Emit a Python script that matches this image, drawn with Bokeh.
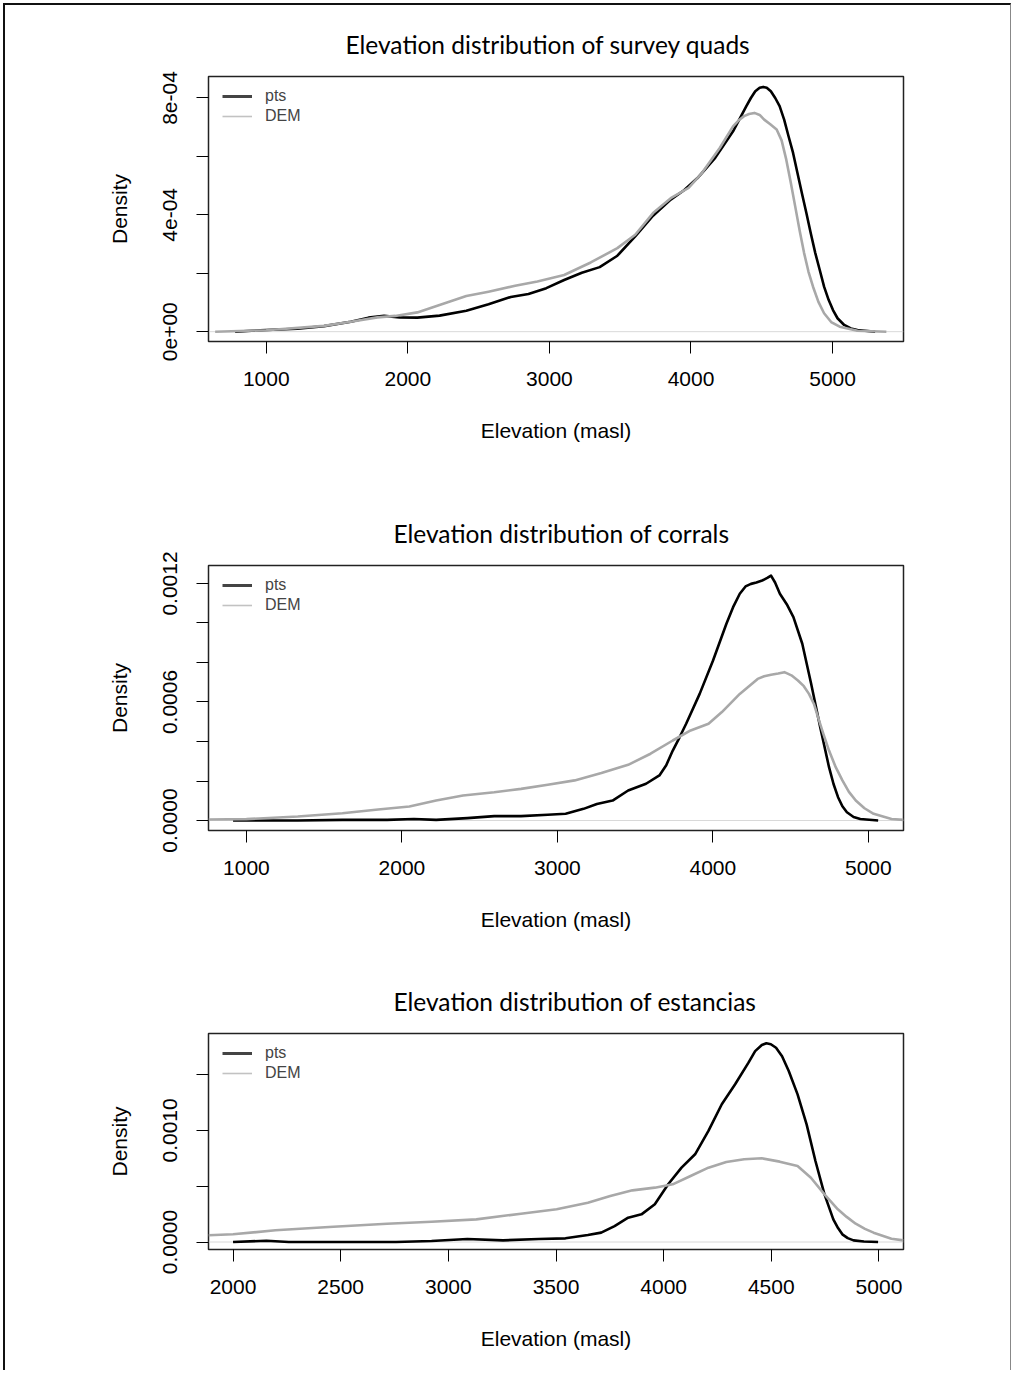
from bokeh.plotting import figure
from bokeh.models import Range1d, FixedTicker, Legend, LegendItem, Span, Spacer
from bokeh.layouts import column
from bokeh.embed import file_html
from bokeh.resources import INLINE

# ---------------- data ----------------
titles = ["Elevation distribution of survey quads",
          "Elevation distribution of corrals",
          "Elevation distribution of estancias"]
x_title = "Elevation (masl)"
y_title = "Density"
series_names = ["pts", "DEM"]

# Panel 1: survey quads
quads_pts_x = [780, 1000, 1220, 1408, 1597, 1722, 1832, 1942, 2067, 2224, 2413, 2570, 2727, 2852,
               2978, 3104, 3229, 3355, 3480, 3606, 3732, 3857, 3951, 4046, 4171, 4297, 4391, 4423,
               4454, 4485, 4510, 4535, 4564, 4595, 4626, 4658, 4689, 4721, 4752, 4783, 4815, 4846,
               4878, 4909, 4940, 4972, 5003, 5035, 5082, 5129, 5176, 5301]
quads_pts_y = [0.0, 0.06e-4, 0.10e-4, 0.19e-4, 0.34e-4, 0.48e-4, 0.54e-4, 0.49e-4, 0.48e-4, 0.55e-4,
               0.72e-4, 0.94e-4, 1.19e-4, 1.29e-4, 1.49e-4, 1.77e-4, 2.02e-4, 2.21e-4, 2.60e-4, 3.26e-4,
               3.97e-4, 4.52e-4, 4.84e-4, 5.26e-4, 5.95e-4, 6.86e-4, 7.72e-4, 8.00e-4, 8.23e-4, 8.35e-4,
               8.38e-4, 8.35e-4, 8.23e-4, 8.00e-4, 7.72e-4, 7.26e-4, 6.69e-4, 6.12e-4, 5.43e-4, 4.75e-4,
               4.06e-4, 3.37e-4, 2.69e-4, 2.12e-4, 1.54e-4, 1.09e-4, 0.74e-4, 0.46e-4, 0.23e-4, 0.11e-4,
               0.06e-4, 0.0]
quads_dem_x = [639, 1000, 1408, 1597, 1785, 1911, 2067, 2224, 2413, 2570, 2758, 2915, 3104, 3292,
               3480, 3606, 3732, 3857, 3983, 4077, 4203, 4297, 4340, 4375, 4410, 4448, 4485, 4517,
               4560, 4605, 4640, 4673, 4705, 4736, 4768, 4799, 4830, 4862, 4900, 4940, 4990, 5050,
               5176, 5380]
quads_dem_y = [0.0, 0.05e-4, 0.20e-4, 0.34e-4, 0.49e-4, 0.54e-4, 0.66e-4, 0.91e-4, 1.22e-4, 1.37e-4,
               1.57e-4, 1.72e-4, 1.94e-4, 2.37e-4, 2.86e-4, 3.32e-4, 4.06e-4, 4.57e-4, 4.92e-4, 5.43e-4,
               6.29e-4, 7.03e-4, 7.25e-4, 7.38e-4, 7.45e-4, 7.49e-4, 7.42e-4, 7.26e-4, 7.10e-4, 6.92e-4,
               6.55e-4, 5.89e-4, 5.10e-4, 4.29e-4, 3.45e-4, 2.69e-4, 2.05e-4, 1.54e-4, 1.02e-4, 0.63e-4,
               0.33e-4, 0.17e-4, 0.03e-4, 0.0]
quads_xticks = [1000, 2000, 3000, 4000, 5000]
quads_xlabels = ["1000", "2000", "3000", "4000", "5000"]
quads_yticks = [0.0, 0.0002, 0.0004, 0.0006, 0.0008]
quads_ylabels = ["0e+00", "", "4e-04", "", "8e-04"]

# Panel 2: corrals
corrals_pts_x = [914, 1330, 1617, 1905, 2077, 2220, 2421, 2594, 2766, 2938, 3053, 3168, 3254, 3355,
                 3455, 3570, 3656, 3700, 3742, 3785, 3828, 3915, 4001, 4087, 4130, 4173, 4210, 4245,
                 4280, 4317, 4350, 4374, 4400, 4431, 4475, 4518, 4575, 4632, 4690, 4747, 4776, 4805,
                 4833, 4862, 4905, 4948, 5063]
corrals_pts_y = [0.0, 0.0, 0.003e-3, 0.003e-3, 0.008e-3, 0.003e-3, 0.012e-3, 0.022e-3, 0.022e-3,
                 0.029e-3, 0.034e-3, 0.059e-3, 0.084e-3, 0.101e-3, 0.152e-3, 0.186e-3, 0.228e-3,
                 0.280e-3, 0.354e-3, 0.420e-3, 0.490e-3, 0.641e-3, 0.810e-3, 0.996e-3, 1.080e-3,
                 1.148e-3, 1.185e-3, 1.198e-3, 1.205e-3, 1.215e-3, 1.228e-3, 1.240e-3, 1.205e-3,
                 1.148e-3, 1.095e-3, 1.030e-3, 0.895e-3, 0.692e-3, 0.473e-3, 0.270e-3, 0.185e-3,
                 0.118e-3, 0.072e-3, 0.042e-3, 0.018e-3, 0.008e-3, 0.0]
corrals_dem_x = [756, 1000, 1330, 1617, 1847, 2048, 2220, 2393, 2594, 2766, 2938, 3111, 3283, 3455,
                 3599, 3742, 3857, 3972, 4058, 4173, 4288, 4330, 4374, 4420, 4460, 4505, 4547, 4585,
                 4618, 4650, 4676, 4710, 4747, 4790, 4833, 4875, 4919, 4975, 5034, 5149, 5226]
corrals_dem_y = [0.005e-3, 0.007e-3, 0.020e-3, 0.037e-3, 0.056e-3, 0.071e-3, 0.101e-3, 0.127e-3,
                 0.143e-3, 0.160e-3, 0.181e-3, 0.203e-3, 0.240e-3, 0.282e-3, 0.338e-3, 0.405e-3,
                 0.456e-3, 0.490e-3, 0.549e-3, 0.641e-3, 0.717e-3, 0.730e-3, 0.738e-3, 0.744e-3,
                 0.751e-3, 0.735e-3, 0.709e-3, 0.680e-3, 0.641e-3, 0.590e-3, 0.523e-3, 0.440e-3,
                 0.354e-3, 0.270e-3, 0.203e-3, 0.145e-3, 0.101e-3, 0.062e-3, 0.034e-3, 0.008e-3,
                 0.003e-3]
corrals_xticks = [1000, 2000, 3000, 4000, 5000]
corrals_xlabels = ["1000", "2000", "3000", "4000", "5000"]
corrals_yticks = [0.0, 0.0002, 0.0004, 0.0006, 0.0008, 0.0010, 0.0012]
corrals_ylabels = ["0.0000", "", "", "0.0006", "", "", "0.0012"]

# Panel 3: estancias
estancias_pts_x = [2000, 2155, 2259, 2508, 2757, 2922, 3088, 3254, 3420, 3544, 3648, 3710, 3772, 3835,
                   3897, 3959, 4021, 4083, 4146, 4208, 4270, 4332, 4394, 4425, 4456, 4477, 4498, 4522,
                   4550, 4581, 4622, 4664, 4705, 4747, 4788, 4810, 4830, 4855, 4882, 4930, 4996]
estancias_pts_y = [0.0, 0.012e-3, 0.0, 0.0, 0.0, 0.009e-3, 0.027e-3, 0.015e-3, 0.027e-3, 0.033e-3,
                   0.063e-3, 0.084e-3, 0.143e-3, 0.218e-3, 0.248e-3, 0.338e-3, 0.517e-3, 0.666e-3,
                   0.786e-3, 0.995e-3, 1.234e-3, 1.413e-3, 1.607e-3, 1.710e-3, 1.765e-3, 1.780e-3,
                   1.772e-3, 1.740e-3, 1.665e-3, 1.532e-3, 1.323e-3, 1.054e-3, 0.726e-3, 0.427e-3,
                   0.203e-3, 0.125e-3, 0.069e-3, 0.035e-3, 0.015e-3, 0.004e-3, 0.0]
estancias_dem_x = [1886, 2000, 2197, 2446, 2715, 2922, 3130, 3337, 3503, 3648, 3752, 3855, 3959, 4042,
                   4125, 4208, 4291, 4374, 4456, 4539, 4622, 4684, 4747, 4809, 4850, 4892, 4935, 4975,
                   5058, 5114]
estancias_dem_y = [0.060e-3, 0.069e-3, 0.105e-3, 0.134e-3, 0.164e-3, 0.182e-3, 0.203e-3, 0.254e-3,
                   0.293e-3, 0.352e-3, 0.412e-3, 0.463e-3, 0.487e-3, 0.517e-3, 0.591e-3, 0.666e-3,
                   0.717e-3, 0.741e-3, 0.750e-3, 0.720e-3, 0.681e-3, 0.576e-3, 0.427e-3, 0.293e-3,
                   0.225e-3, 0.164e-3, 0.118e-3, 0.084e-3, 0.030e-3, 0.015e-3]
estancias_xticks = [2000, 2500, 3000, 3500, 4000, 4500, 5000]
estancias_xlabels = ["2000", "2500", "3000", "3500", "4000", "4500", "5000"]
estancias_yticks = [0.0, 0.0005, 0.0010, 0.0015]
estancias_ylabels = ["0.0000", "", "0.0010", ""]

# ---------------- styling ----------------
AX_FONT = "Liberation Sans"
TITLE_FONT = "Lato"
FIG_W = 1005


def make_panel(title, xr, yr, xticks, xlabels, yticks, ylabels,
               pts_x, pts_y, dem_x, dem_y, height, b_top, b_bottom, b_right, frame_h, t_off):
    p = figure(width=FIG_W, height=height, x_range=Range1d(*xr), y_range=Range1d(*yr),
               output_backend="svg", toolbar_location=None, title=title,
               min_border_left=203, min_border_right=b_right,
               min_border_top=b_top, min_border_bottom=b_bottom)
    p.grid.visible = False
    p.outline_line_color = "#222222"
    p.outline_line_width = 1.5
    p.background_fill_color = "white"
    p.border_fill_color = "white"

    p.title.align = "left"
    p.title.offset = t_off
    p.title.text_font = TITLE_FONT
    p.title.text_font_size = "24.5px"
    p.title.text_font_style = "normal"
    p.title.text_color = "black"
    p.title.standoff = 35

    xa = p.xaxis[0]
    xa.ticker = FixedTicker(ticks=xticks, minor_ticks=[])
    xa.major_label_overrides = {t: l for t, l in zip(xticks, xlabels)}
    ya = p.yaxis[0]
    ya.ticker = FixedTicker(ticks=yticks, minor_ticks=[])
    ya.major_label_overrides = {t: l for t, l in zip(yticks, ylabels)}
    ya.major_label_orientation = "vertical"
    for ax, lab, st in ((xa, x_title, 18), (ya, y_title, 19)):
        ax.axis_line_color = None
        ax.major_tick_line_color = "black"
        ax.major_tick_line_width = 1
        ax.major_tick_out = 12
        ax.major_tick_in = 0
        ax.minor_tick_line_color = None
        ax.major_label_text_font = AX_FONT
        ax.major_label_text_font_size = "21px"
        ax.major_label_text_color = "black"
        ax.major_label_standoff = st
        ax.axis_label = lab
        ax.axis_label_text_font = AX_FONT
        ax.axis_label_text_font_size = "21px"
        ax.axis_label_text_font_style = "normal"
        ax.axis_label_text_color = "black"
        ax.axis_label_standoff = 30

    p.add_layout(Span(location=0, dimension="width", line_color="#cfcfcf",
                      line_width=0.8, level="underlay"))
    p.line(pts_x, pts_y, line_color="black", line_width=2.6, line_join="round")
    p.line(dem_x, dem_y, line_color="#a8a8a8", line_width=2.6, line_join="round")

    # legend-only renderers (one point far outside the visible range)
    off_x = [xr[0] - 1e6]
    off_y = [0.0]
    r_pts = p.line(off_x, off_y, line_color="#444444", line_width=3)
    r_dem = p.line(off_x, off_y, line_color="#c2c2c2", line_width=1.6)
    legend = Legend(items=[LegendItem(label=series_names[0], renderers=[r_pts]),
                           LegendItem(label=series_names[1], renderers=[r_dem])],
                    location=(14, frame_h - 50), padding=0, margin=0, spacing=0,
                    glyph_width=30, glyph_height=20, label_height=20, label_standoff=13,
                    label_text_font=AX_FONT, label_text_font_size="16px",
                    border_line_color=None, background_fill_alpha=0)
    p.add_layout(legend)
    return p


p1 = make_panel(titles[0], (592, 5501), (-0.336e-4, 8.736e-4),
                quads_xticks, quads_xlabels, quads_yticks, quads_ylabels,
                quads_pts_x, quads_pts_y, quads_dem_x, quads_dem_y,
                height=475, b_top=71, b_bottom=139, b_right=104, frame_h=265, t_off=137)
p2 = make_panel(titles[1], (756, 5226), (-0.0506e-3, 1.291e-3),
                corrals_xticks, corrals_xlabels, corrals_yticks, corrals_ylabels,
                corrals_pts_x, corrals_pts_y, corrals_dem_x, corrals_dem_y,
                height=480, b_top=85, b_bottom=130, b_right=107, frame_h=265, t_off=185)
p3 = make_panel(titles[2], (1886, 5114), (-0.067e-3, 1.868e-3),
                estancias_xticks, estancias_xlabels, estancias_yticks, estancias_ylabels,
                estancias_pts_x, estancias_pts_y, estancias_dem_x, estancias_dem_y,
                height=400, b_top=73, b_bottom=111, b_right=107, frame_h=216, t_off=185)

layout = column(p1, p2, p3, Spacer(width=FIG_W, height=10), spacing=0,
                styles={"border-left": "2px solid #111111", "border-top": "2px solid #111111",
                        "border-right": "1px solid #888888",
                        "margin-left": "3px", "margin-top": "3px"})

open("out.html", "w").write(file_html(layout, INLINE))
